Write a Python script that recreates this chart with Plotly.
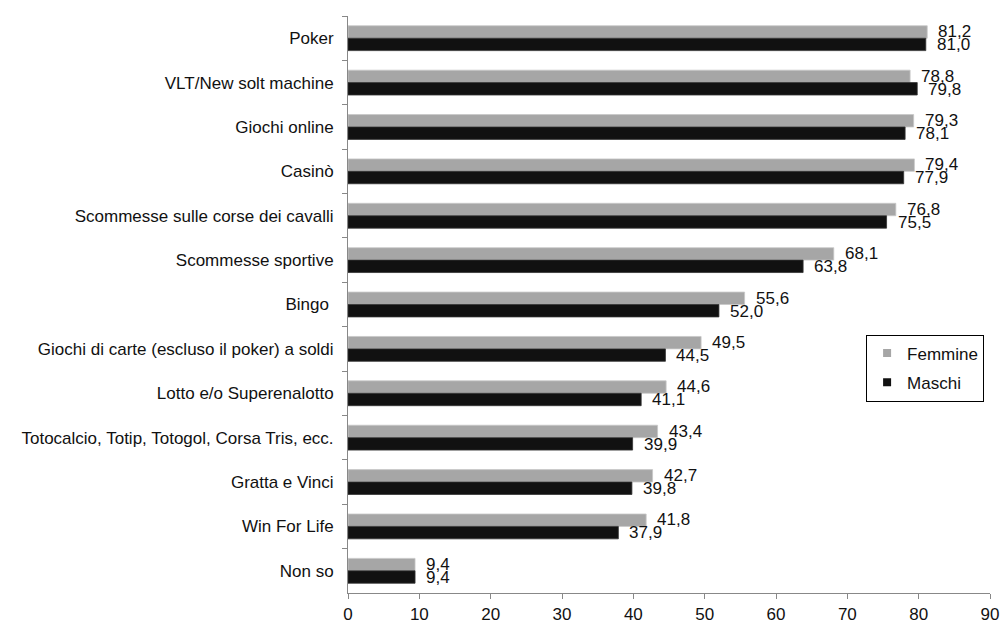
import plotly.graph_objects as go

categories = [
    "Poker",
    "VLT/New solt machine",
    "Giochi online",
    "Casinò",
    "Scommesse sulle corse dei cavalli",
    "Scommesse sportive",
    "Bingo ",
    "Giochi di carte (escluso il poker) a soldi",
    "Lotto e/o Superenalotto",
    "Totocalcio, Totip, Totogol, Corsa Tris, ecc.",
    "Gratta e Vinci",
    "Win For Life",
    "Non so",
]
femmine = [81.2, 78.8, 79.3, 79.4, 76.8, 68.1, 55.6, 49.5, 44.6, 43.4, 42.7, 41.8, 9.4]
maschi = [81.0, 79.8, 78.1, 77.9, 75.5, 63.8, 52.0, 44.5, 41.1, 39.9, 39.8, 37.9, 9.4]
x_ticks = [0, 10, 20, 30, 40, 50, 60, 70, 80, 90]

FONT = "Liberation Sans, Arial, sans-serif"
FS = 17
GREY = "#A6A6A6"
BLACK = "#111111"
AXIS = "#888888"

def fmt(v):
    return f"{v:.1f}".replace(".", ",")

fig = go.Figure()
fig.add_trace(go.Bar(
    y=categories, x=femmine, orientation="h", name="Femmine",
    marker=dict(color=GREY, line=dict(color="#C8C8C8", width=0.8)),
    showlegend=False,
))
fig.add_trace(go.Bar(
    y=categories, x=maschi, orientation="h", name="Maschi",
    marker=dict(color=BLACK, line=dict(color="#333333", width=0.8)),
    showlegend=False,
))
# legend entries with small square symbols
fig.add_trace(go.Scatter(x=[None], y=[None], mode="markers", name="Femmine",
                         marker=dict(symbol="square", size=8, color=GREY),
                         legendgroup="f"))
fig.add_trace(go.Scatter(x=[None], y=[None], mode="markers", name="Maschi",
                         marker=dict(symbol="square", size=8, color=BLACK),
                         legendgroup="m"))

annotations = []
for c, f, m in zip(categories, femmine, maschi):
    annotations.append(dict(x=f, y=c, xref="x", yref="y", text=fmt(f),
                            showarrow=False, xanchor="left", yanchor="middle",
                            xshift=9, yshift=6.5,
                            font=dict(family=FONT, size=FS, color="#111111")))
    annotations.append(dict(x=m, y=c, xref="x", yref="y", text=fmt(m),
                            showarrow=False, xanchor="left", yanchor="middle",
                            xshift=9, yshift=-6.5,
                            font=dict(family=FONT, size=FS, color="#111111")))

fig.update_layout(
    width=1002, height=625,
    margin=dict(l=348, r=12, t=16, b=32, autoexpand=False),
    paper_bgcolor="white", plot_bgcolor="white",
    barmode="group", bargap=0.44, bargroupgap=0,
    font=dict(family=FONT, size=FS, color="#111111"),
    annotations=annotations,
    showlegend=True,
    legend=dict(
        x=0.807, y=0.448, xanchor="left", yanchor="top",
        bordercolor="#000000", borderwidth=1,
        bgcolor="white", tracegroupgap=4, itemwidth=30,
        font=dict(family=FONT, size=FS, color="#111111"),
    ),
    xaxis=dict(
        range=[0, 90], tickvals=x_ticks, ticktext=[str(t) for t in x_ticks],
        showgrid=False, zeroline=False, automargin=False,
        showline=True, linecolor=AXIS, linewidth=1,
        ticks="outside", ticklen=5, tickcolor=AXIS,
        ticklabelstandoff=1,
        tickfont=dict(family=FONT, size=FS, color="#111111"),
    ),
    yaxis=dict(
        autorange="reversed", type="category", automargin=False,
        showgrid=False, zeroline=False,
        showline=True, linecolor=AXIS, linewidth=1,
        ticks="outside", ticklen=5, tickcolor=AXIS, tickson="boundaries",
        ticklabelstandoff=10,
        tickfont=dict(family=FONT, size=FS, color="#111111"),
    ),
)

fig.write_html("out.html")
